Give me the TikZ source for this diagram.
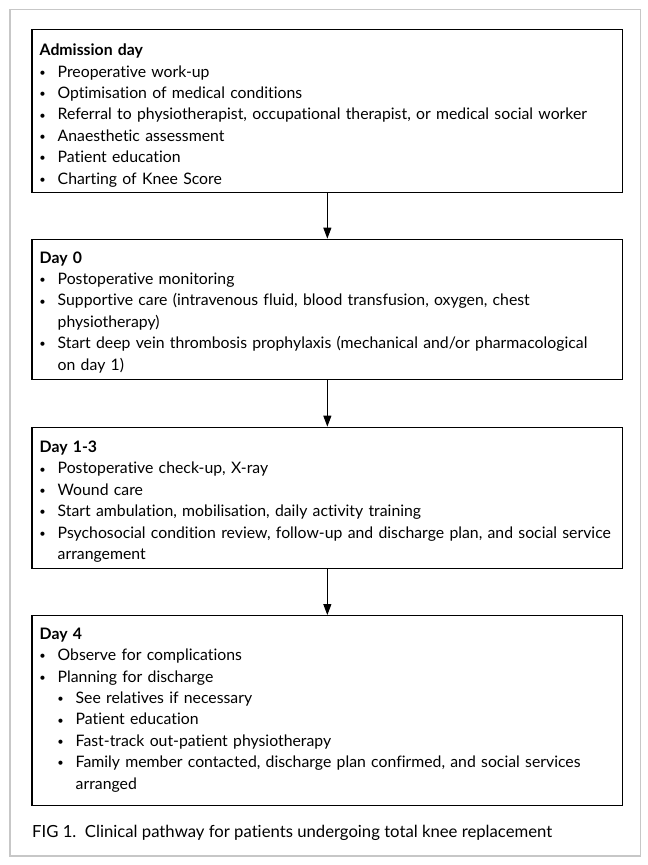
\documentclass[tikz,border=0pt]{standalone}
\usepackage{fontspec}
\setmainfont{Lato}[Ligatures={NoCommon}]
\usetikzlibrary{arrows.meta}
\hyphenpenalty=10000
\exhyphenpenalty=10000
\newcommand\bul{\raisebox{0.1ex}{\scalebox{0.7}{\textbullet}}}
\newcommand\itm[1]{\par\noindent\hangindent=18pt\hangafter=1\makebox[18pt][l]{\makebox[6pt]{\bul}}#1}
\newcommand\subitm[1]{\par\noindent\hangindent=36pt\hangafter=1\makebox[36pt][l]{\hspace{18pt}\makebox[6pt]{\bul}}#1}
\begin{document}
\begin{tikzpicture}[x=1pt,y=-1pt,
  box/.style={draw=black, line width=1.3pt, rectangle, inner sep=0pt, minimum width=590.7pt},
  txt/.style={anchor=base west, inner sep=0pt, text width=600pt, align=left, font=\fontsize{15.8}{21.4}\selectfont},
  capt/.style={anchor=base west, inner sep=0pt, font=\fontsize{16.7}{21.4}\selectfont},
  arr/.style={line width=1pt, -{Triangle[length=11pt,width=8pt]}},
  frame/.style={draw=black!22, line width=1.5pt}]
\useasboundingbox (0,0) rectangle (648,865);
\draw[frame] (10,9.5) rectangle (640.5,856);
\node[box, minimum height=162.8pt] (b1) at (327.35,110.9) {};
\node[box, minimum height=140pt] (b2) at (327.35,309.3) {};
\node[box, minimum height=141pt] (b3) at (327.35,497.8) {};
\node[box, minimum height=189.6pt] (b4) at (327.35,710.5) {};
\node[txt] (t1) at (39.5,55.7) {\noindent\textbf{Admission day}
\itm{Preoperative work-up}
\itm{Optimisation of medical conditions}
\itm{Referral to physiotherapist, occupational therapist, or medical social worker}
\itm{Anaesthetic assessment}
\itm{Patient education}
\itm{Charting of Knee Score}\par};
\node[txt] (t2) at (39.5,263) {\noindent\textbf{Day 0}
\itm{Postoperative monitoring}
\itm{Supportive care (intravenous fluid, blood transfusion, oxygen, chest\newline physiotherapy)}
\itm{Start deep vein thrombosis prophylaxis (mechanical and/or pharmacological\newline on day 1)}\par};
\node[txt] (t3) at (39.5,452.5) {\noindent\textbf{Day 1-3}
\itm{Postoperative check-up, X-ray}
\itm{Wound care}
\itm{Start ambulation, mobilisation, daily activity training}
\itm{Psychosocial condition review, follow-up and discharge plan, and social service\newline arrangement}\par};
\node[txt] (t4) at (39.5,639.3) {\noindent\textbf{Day 4}
\itm{Observe for complications}
\itm{Planning for discharge}
\subitm{See relatives if necessary}
\subitm{Patient education}
\subitm{Fast-track out-patient physiotherapy}
\subitm{Family member contacted, discharge plan confirmed, and social services\newline arranged}\par};
\node[capt] (cap) at (32,837) {FIG 1.\ \ Clinical pathway for patients undergoing total knee replacement};
\draw[arr] (b1.south) -- (b2.north);
\draw[arr] (b2.south) -- (b3.north);
\draw[arr] (b3.south) -- (b4.north);
\end{tikzpicture}
\end{document}
